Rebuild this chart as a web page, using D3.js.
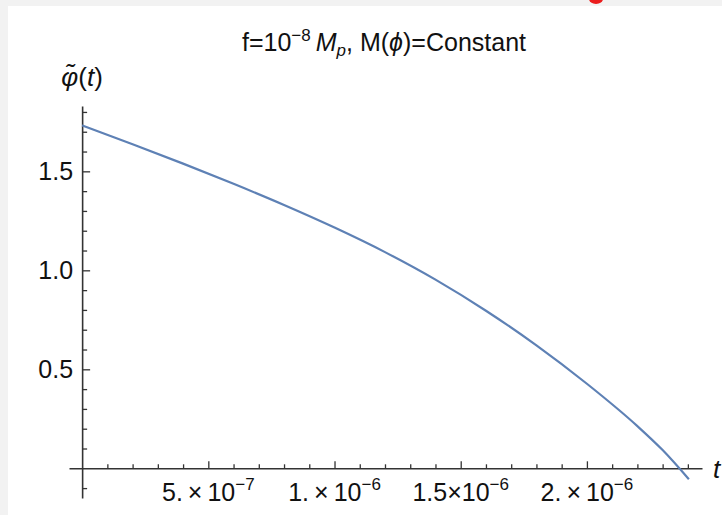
<!DOCTYPE html>
<html>
<head>
<meta charset="utf-8">
<script src="https://cdn.jsdelivr.net/npm/d3@7"></script>
<style>
body { margin:0; background:#f2f2f2; }
svg { display:block; }
</style>
</head>
<body>
<div id="chart"></div>
<script>

// curve: t in units of 1e-6, phi tilde
var tVals = [0, 0.2, 0.4, 0.6, 0.8, 1.0, 1.2, 1.4, 1.6, 1.8, 2.0, 2.2, 2.3, 2.404];
var phiVals = [1.732, 1.637, 1.539, 1.437, 1.330, 1.216, 1.092, 0.953, 0.796, 0.621, 0.427, 0.213, 0.092, -0.055];

var yTicks = [0.5, 1.0, 1.5];
var xTicks = [5e-7, 1e-6, 1.5e-6, 2e-6];
var xTickMant = ['5.', '1.', '1.5', '2.'];
var xTickExp = ['\u22127', '\u22126', '\u22126', '\u22126'];

var width = 722, height = 515;
var font = "'Liberation Sans', Arial, sans-serif";

var svg = d3.select('#chart').append('svg')
	.attr('width', width)
	.attr('height', height);

svg.append('rect')
	.attr('x', 8).attr('y', 6)
	.attr('width', width - 8).attr('height', height - 6)
	.attr('fill', 'white');

// bit of red from the screenshot above
svg.append('ellipse')
	.attr('cx', 596).attr('cy', -1)
	.attr('rx', 7).attr('ry', 5)
	.attr('fill', 'rgb(235,30,30)');

var x = d3.scaleLinear().domain([-0.052e-6, 2.456e-6]).range([69, 702]);
var y = d3.scaleLinear().domain([-0.15, 1.83]).range([498, 106]);

var axisColor = '#333';

// x axis
var xMinor = d3.range(1, 25).map(function(i){ return i*1e-7; }).filter(function(v){ return Math.round(v*1e7) % 5 != 0; });
var gx = svg.append('g').attr('transform', 'translate(0,' + y(0) + ')');
gx.call(d3.axisBottom(x).tickValues(xTicks).tickFormat('').tickSizeInner(-7).tickSizeOuter(0));
gx.append('g').call(d3.axisBottom(x).tickValues(xMinor).tickFormat('').tickSizeInner(-4).tickSizeOuter(0))
	.select('.domain').remove();

// y axis
var yMinor = d3.range(-1, 19).map(function(i){ return i/10; }).filter(function(v){ return v != 0 && Math.round(v*10) % 5 != 0; });
var gy = svg.append('g').attr('transform', 'translate(' + x(0) + ',0)');
gy.call(d3.axisLeft(y).tickValues(yTicks).tickFormat('').tickSizeInner(-8).tickSizeOuter(0));
gy.append('g').call(d3.axisLeft(y).tickValues(yMinor).tickFormat('').tickSizeInner(-5).tickSizeOuter(0))
	.select('.domain').remove();

svg.selectAll('.domain, .tick line')
	.attr('stroke', axisColor)
	.attr('stroke-width', 1.3);
svg.selectAll('.domain').attr('stroke-width', 1.6);

// y tick labels
svg.append('g').selectAll('text')
	.data(yTicks)
	.enter()
	.append('text')
	.attr('x', x(0) - 9)
	.attr('y', function(d){ return y(d) + 9; })
	.attr('text-anchor', 'end')
	.text(d3.format('.1f'))
	.attr('font-family', font)
	.attr('font-size', 25)
	.attr('fill', '#111');

// x tick labels
var xl = svg.append('g').selectAll('text')
	.data(xTicks)
	.enter()
	.append('text')
	.attr('x', function(d){ return x(d); })
	.attr('y', 501)
	.attr('text-anchor', 'middle')
	.attr('font-family', font)
	.attr('font-size', 25)
	.attr('fill', '#111');
xl.append('tspan').text(function(d,i){ return xTickMant[i] + (xTickMant[i].length > 2 ? '' : '\u2009'); });
xl.append('tspan').text(function(d,i){ return '\u00d7' + (xTickMant[i].length > 2 ? '' : '\u2009') + '10'; });
xl.append('tspan').attr('dy', -11).attr('font-size', 17).text(function(d,i){ return xTickExp[i]; });

// the curve
var pts = tVals.map(function(t,i){ return [t*1e-6, phiVals[i]]; });
svg.append('path')
	.datum(pts)
	.attr('d', d3.line()
		.x(function(d){ return x(d[0]); })
		.y(function(d){ return y(d[1]); })
		.curve(d3.curveMonotoneX))
	.attr('fill', 'none')
	.attr('stroke', 'rgb(94,129,181)')
	.attr('stroke-width', 2.2);

// title
var title = svg.append('text')
	.attr('x', 384)
	.attr('y', 51)
	.attr('text-anchor', 'middle')
	.attr('font-family', font)
	.attr('font-size', 25)
	.attr('fill', '#111');
title.append('tspan').text('f=10');
title.append('tspan').attr('dy', -10).attr('font-size', 17).text('\u22128');
title.append('tspan').attr('dy', 10).text('\u2009');
title.append('tspan').attr('font-style', 'italic').text('M');
title.append('tspan').attr('dy', 5).attr('font-size', 17).attr('font-style', 'italic').text('p');
title.append('tspan').attr('dy', -5).text(', M(');
title.append('tspan').attr('font-style', 'italic').text('\u03d5');
title.append('tspan').text(')=Constant');

// axis labels
var ylab = svg.append('text')
	.attr('x', x(0))
	.attr('y', 86)
	.attr('text-anchor', 'middle')
	.attr('font-family', font)
	.attr('font-size', 26)
	.attr('fill', '#111');
ylab.append('tspan').attr('font-style', 'italic').text('\u03c6\u0303');
ylab.append('tspan').text('(');
ylab.append('tspan').attr('font-style', 'italic').text('t');
ylab.append('tspan').text(')');

svg.append('text')
	.attr('x', 713)
	.attr('y', 478)
	.text('t')
	.attr('font-family', font)
	.attr('font-size', 26)
	.attr('font-style', 'italic')
	.attr('fill', '#111');

</script>
</body>
</html>
